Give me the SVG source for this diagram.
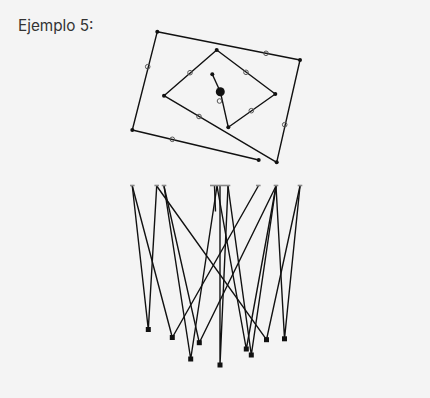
<svg xmlns="http://www.w3.org/2000/svg" width="430" height="398" viewBox="0 0 430 398">
<style>
.bg{fill:#f4f4f4}
.title{font-family:Inter,"Liberation Sans",sans-serif;font-size:15.3px;fill:#333}
.edge{fill:none;stroke:#111;stroke-width:1.4;stroke-linejoin:round}
.v{fill:#111}
.mid{fill:none;stroke:#555;stroke-width:1}
.tick{stroke:#888;stroke-width:1.6}
.sq{fill:#111}
</style>
<rect class="bg" x="0" y="0" width="430" height="398"/>
<text class="title" x="18" y="31">Ejemplo 5:</text>
<g id="connectors">
  <polyline class="edge" points="258.7,160 132.3,130 157.3,31.7 300,60 276.7,162.3 164,95.7 216.7,50 275.3,94 228.3,127.3 220.3,91.7"/>
  <line class="edge" x1="220.3" y1="91.7" x2="212.3" y2="74.3" stroke-width="2"/>
  <g id="bipartite">
    <polyline class="edge" points="132.3,186 148.3,329.5 156.7,186"/>
    <polyline class="edge" points="258.3,186 172.3,337.5 132.3,186"/>
    <polyline class="edge" points="164,186 190.7,359 217,186"/>
    <polyline class="edge" points="276,186 199.3,342.7 164,186"/>
    <polyline class="edge" points="228,186 220,365 220,186"/>
    <polyline class="edge" points="217,186 246.3,349 276,186"/>
    <polyline class="edge" points="276,186 251.3,355 228,186"/>
    <polyline class="edge" points="156.7,186 266.5,339.7 300,186"/>
    <polyline class="edge" points="300,186 284.5,338.8 276,186"/>
    <line class="edge" x1="214.5" y1="186" x2="215.5" y2="211.5"/>
  </g>
</g>
<g id="spiral-nodes">
  <circle id="vA" class="v" cx="157.3" cy="31.7" r="2"/>
  <circle id="vB" class="v" cx="300" cy="60" r="2"/>
  <circle id="vC" class="v" cx="276.7" cy="162.3" r="2"/>
  <circle id="vD" class="v" cx="258.7" cy="160" r="2"/>
  <circle id="vE" class="v" cx="132.3" cy="130" r="2"/>
  <circle id="vF" class="v" cx="164" cy="95.7" r="2"/>
  <circle id="vG" class="v" cx="216.7" cy="50" r="2"/>
  <circle id="vH" class="v" cx="275.3" cy="94" r="2"/>
  <circle id="vI" class="v" cx="228.3" cy="127.3" r="2"/>
  <circle id="vJ" class="v" cx="220.3" cy="91.7" r="4.5"/>
  <circle id="vK" class="v" cx="212.3" cy="74.3" r="2"/>
</g>
<g id="mid-nodes">
  <circle class="mid" cx="172.3" cy="139.3" r="2.3"/>
  <circle class="mid" cx="147.7" cy="66.7" r="2.3"/>
  <circle class="mid" cx="266" cy="53.3" r="2.3"/>
  <circle class="mid" cx="284.7" cy="124.7" r="2.3"/>
  <circle class="mid" cx="199" cy="116.5" r="2.3"/>
  <circle class="mid" cx="190" cy="72.7" r="2.3"/>
  <circle class="mid" cx="246" cy="72.3" r="2.3"/>
  <circle class="mid" cx="251.3" cy="110.7" r="2.3"/>
  <circle class="mid" cx="219.5" cy="101" r="2.3"/>
</g>
<g id="top-ticks">
  <line class="tick" x1="130" y1="185.5" x2="134.6" y2="185.5"/>
  <line class="tick" x1="154.4" y1="185.5" x2="159" y2="185.5"/>
  <line class="tick" x1="161.7" y1="185.5" x2="166.3" y2="185.5"/>
  <line class="tick" x1="210" y1="185.5" x2="230.3" y2="185.5"/>
  <line class="tick" x1="256" y1="185.5" x2="260.6" y2="185.5"/>
  <line class="tick" x1="273.7" y1="185.5" x2="278.3" y2="185.5"/>
  <line class="tick" x1="297.7" y1="185.5" x2="302.3" y2="185.5"/>
</g>
<g id="bottom-squares">
  <rect class="sq" x="145.8" y="327" width="5" height="5"/>
  <rect class="sq" x="169.8" y="335" width="5" height="5"/>
  <rect class="sq" x="188.2" y="356.5" width="5" height="5"/>
  <rect class="sq" x="196.8" y="340.2" width="5" height="5"/>
  <rect class="sq" x="217.5" y="362.5" width="5" height="5"/>
  <rect class="sq" x="243.8" y="346.5" width="5" height="5"/>
  <rect class="sq" x="248.8" y="352.5" width="5" height="5"/>
  <rect class="sq" x="264" y="337.2" width="5" height="5"/>
  <rect class="sq" x="282" y="336.3" width="5" height="5"/>
</g>
</svg>
